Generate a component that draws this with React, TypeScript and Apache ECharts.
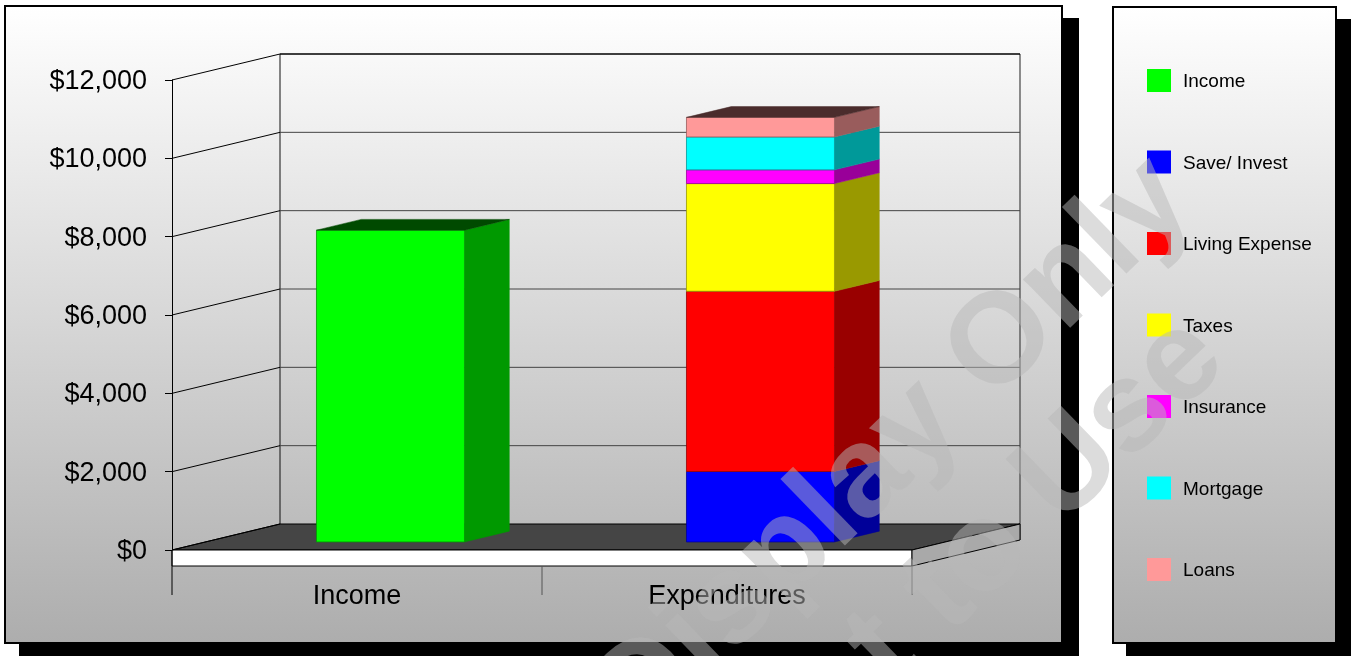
import React, { useEffect, useRef } from 'react';
import * as echarts from 'echarts';

// ---------- data ----------
const categories = ['Income', 'Expenditures'];
const yTicks = [0, 2000, 4000, 6000, 8000, 10000, 12000];
const seriesNames = ['Income', 'Save/ Invest', 'Living Expense', 'Taxes', 'Insurance', 'Mortgage', 'Loans'];
const income = [7960, null];
const saveInvest = [null, 1800];
const livingExpense = [null, 4600];
const taxes = [null, 2750];
const insurance = [null, 350];
const mortgage = [null, 840];
const loans = [null, 500];
const seriesColors = ['#00ff00', '#0000ff', '#ff0000', '#ffff00', '#ff00ff', '#00ffff', '#ff9999'];
const watermarkLines = ['Display Only', 'Not to Use'];

// ---------- style constants ----------
const FONT = '"Liberation Sans", Arial, sans-serif';
const DX = 108; // wall depth x
const DY = -26; // wall depth y
const BAR_FRONT = 0.31;
const BAR_BACK = 0.725;
const BAR_RATIO = 0.4;
const SLAB = 16;

function shade(hex: string, k: number) {
  const n = parseInt(hex.slice(1), 16);
  const r = Math.round(((n >> 16) & 255) * k);
  const g = Math.round(((n >> 8) & 255) * k);
  const b = Math.round((n & 255) * k);
  return `rgb(${r},${g},${b})`;
}

export default function App() {
  const ref = useRef<HTMLDivElement>(null);

  useEffect(() => {
    if (!ref.current) return;
    const chart = echarts.init(ref.current, undefined, { renderer: 'svg' });

    const allValues = [income, saveInvest, livingExpense, taxes, insurance, mortgage, loans];
    const running = categories.map(() => 0);
    const lastIdx = categories.map((_, c) => {
      let li = -1;
      allValues.forEach((arr, i) => { if (arr[c] != null) li = i; });
      return li;
    });
    const barSeries = allValues.map((arr, i) => {
      const data: any[] = [];
      arr.forEach((v, c) => {
        if (v == null) return;
        const s = running[c];
        const e = s + (v as number);
        running[c] = e;
        data.push([c, s, e, lastIdx[c] === i ? 1 : 0]);
      });
      const color = seriesColors[i];
      return {
        type: 'custom',
        name: seriesNames[i],
        itemStyle: { color },
        clip: false,
        z: 5,
        data,
        renderItem: (params: any, api: any) => {
          const cat = api.value(0);
          const s = api.value(1);
          const e = api.value(2);
          const isTop = api.value(3);
          const band = api.size([1, 0])[0];
          const pb = api.coord([cat, s]);
          const pt = api.coord([cat, e]);
          const w = band * BAR_RATIO;
          const ox = BAR_FRONT * DX;
          const oy = BAR_FRONT * DY;
          const dx = (BAR_BACK - BAR_FRONT) * DX;
          const dy = (BAR_BACK - BAR_FRONT) * DY;
          const xl = pb[0] - w / 2 + ox;
          const xr = pb[0] + w / 2 + ox;
          const yb = pb[1] + oy;
          const yt = pt[1] + oy;
          const side = shade(color, 0.6);
          const children: any[] = [
            {
              type: 'polygon',
              shape: { points: [[xr, yt], [xr + dx, yt + dy], [xr + dx, yb + dy], [xr, yb]] },
              style: { fill: side, stroke: side, lineWidth: 0.5 },
            },
            {
              type: 'rect',
              shape: { x: xl, y: yt, width: w, height: yb - yt },
              style: { fill: color, stroke: side, lineWidth: 0.8 },
            },
          ];
          if (isTop) {
            const topC = shade(color, 0.29);
            children.push({
              type: 'polygon',
              shape: { points: [[xl, yt], [xr, yt], [xr + dx, yt + dy], [xl + dx, yt + dy]] },
              style: { fill: topC, stroke: topC, lineWidth: 0.5 },
            });
          }
          return { type: 'group', children };
        },
      };
    });

    const floorSeries = {
      type: 'custom',
      name: 'floor',
      silent: true,
      clip: false,
      z: 1,
      data: [[0, yTicks[0]]],
      renderItem: (params: any, api: any) => {
        const L = params.coordSys.x;
        const R = L + params.coordSys.width;
        const y0 = api.coord([0, yTicks[0]])[1];
        const yTop = api.coord([0, yTicks[yTicks.length - 1]])[1];
        const band = api.size([1, 0])[0];
        const children: any[] = [
          { type: 'line', shape: { x1: L + DX, y1: yTop + DY, x2: L + DX, y2: y0 + DY }, style: { stroke: '#111', lineWidth: 1 } },
          { type: 'line', shape: { x1: R + DX, y1: yTop + DY, x2: R + DX, y2: y0 + DY + SLAB }, style: { stroke: '#444', lineWidth: 1.2 } },
          {
            type: 'polygon',
            shape: { points: [[L, y0], [L + DX, y0 + DY], [R + DX, y0 + DY], [R, y0]] },
            style: { fill: '#454545', stroke: '#000', lineWidth: 1 },
          },
          {
            type: 'rect',
            shape: { x: L, y: y0, width: R - L, height: SLAB },
            style: { fill: '#ffffff', stroke: '#000', lineWidth: 1 },
          },
          {
            type: 'polygon',
            shape: { points: [[R, y0], [R + DX, y0 + DY], [R + DX, y0 + DY + SLAB], [R, y0 + SLAB]] },
            style: { fill: '#a9a9a9', stroke: '#000', lineWidth: 1 },
          },
        ];
        for (let i = 0; i <= categories.length; i++) {
          const x = L + i * band;
          children.push({
            type: 'line',
            shape: { x1: x, y1: i === 0 ? y0 : y0 + SLAB, x2: x, y2: y0 + 45 },
            style: { stroke: i === 0 ? '#000' : '#555', lineWidth: 1 },
          });
        }
        return { type: 'group', children };
      },
    };

    const gridSeries = {
      type: 'custom',
      name: 'grid3d',
      silent: true,
      clip: false,
      z: 2,
      data: yTicks.map((v) => [0, v]),
      renderItem: (params: any, api: any) => {
        const L = params.coordSys.x;
        const R = L + params.coordSys.width;
        const v = api.value(1);
        const y = api.coord([0, v])[1];
        const isMax = v === yTicks[yTicks.length - 1];
        const children: any[] = [
          { type: 'line', shape: { x1: L, y1: y, x2: L + DX, y2: y + DY }, style: { stroke: '#000', lineWidth: 1 } },
        ];
        if (v !== yTicks[0]) {
          children.push({
            type: 'line',
            shape: { x1: L + DX, y1: y + DY, x2: R + DX, y2: y + DY },
            style: { stroke: isMax ? '#000' : '#444', lineWidth: isMax ? 1.5 : 1 },
          });
        }
        return { type: 'group', children };
      },
    };

    const rad = (44 * Math.PI) / 180;
    const wmStyle = {
      font: `bold 128px ${FONT}`,
      fill: 'rgba(184,184,184,0.49)',
      align: 'center',
      verticalAlign: 'middle',
      textAlign: 'center',
      textVerticalAlign: 'middle',
    };

    chart.setOption({
      animation: false,
      textStyle: { fontFamily: FONT },
      graphic: [
        { type: 'rect', z: -20, shape: { x: 19, y: 18, width: 1060, height: 660 }, style: { fill: '#000' } },
        {
          type: 'rect', z: -19,
          shape: { x: 5, y: 6, width: 1057, height: 637 },
          style: {
            fill: new echarts.graphic.LinearGradient(0, 0, 0, 1, [
              { offset: 0, color: '#ffffff' },
              { offset: 1, color: '#adadad' },
            ]),
            stroke: '#000', lineWidth: 2,
          },
        },
        { type: 'rect', z: -20, shape: { x: 1126, y: 19, width: 230, height: 660 }, style: { fill: '#000' } },
        {
          type: 'rect', z: -19,
          shape: { x: 1113, y: 7, width: 223, height: 636 },
          style: {
            fill: new echarts.graphic.LinearGradient(0, 0, 0, 1, [
              { offset: 0, color: '#ffffff' },
              { offset: 1, color: '#adadad' },
            ]),
            stroke: '#000', lineWidth: 2,
          },
        },
        { type: 'text', z: 100, silent: true, x: 887, y: 443, rotation: rad, style: { ...wmStyle, text: watermarkLines[0] } },
        { type: 'text', z: 100, silent: true, x: 969, y: 555, rotation: rad, style: { ...wmStyle, text: watermarkLines[1] } },
      ],
      legend: {
        orient: 'vertical',
        left: 1147,
        top: 69,
        padding: 0,
        itemWidth: 24,
        itemHeight: 23,
        itemGap: 58.5,
        icon: 'rect',
        data: seriesNames,
        selectedMode: false,
        textStyle: { fontSize: 19, color: '#000', fontFamily: FONT, padding: [0, 0, 0, 7] },
      },
      grid: { left: 172, top: 80, width: 740, height: 470, containLabel: false },
      xAxis: {
        type: 'category',
        data: categories,
        axisLine: { show: false },
        axisTick: { show: false },
        splitLine: { show: false },
        axisLabel: { fontSize: 27, color: '#000', margin: 31, fontFamily: FONT },
      },
      yAxis: {
        type: 'value',
        min: 0,
        max: 12000,
        interval: 2000,
        axisLine: { show: true, lineStyle: { color: '#000', width: 1 } },
        axisTick: { show: true, length: 7, lineStyle: { color: '#000' } },
        splitLine: { show: false },
        axisLabel: {
          fontSize: 27,
          color: '#000',
          margin: 25,
          fontFamily: FONT,
          formatter: (v: number) => '$' + v.toLocaleString('en-US'),
        },
      },
      series: [floorSeries, gridSeries, ...barSeries],
    });

    return () => chart.dispose();
  }, []);

  return <div ref={ref} style={{ position: 'fixed', left: 0, top: 0, width: 1351, height: 656 }} />;
}
